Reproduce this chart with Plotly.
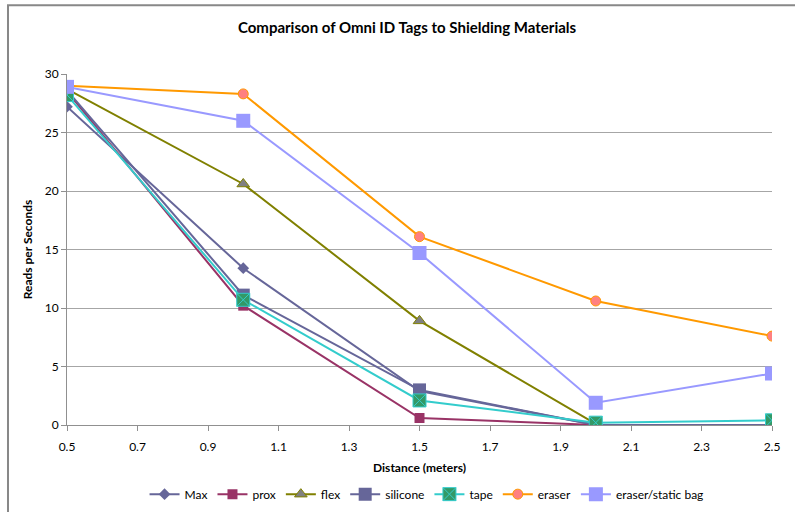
import plotly.graph_objects as go

distance = [0.5, 1.0, 1.5, 2.0, 2.5]
max_vals = [27.2, 13.4, 2.9, 0.0, 0.0]
prox_vals = [28.5, 10.2, 0.6, 0.0, 0.0]
flex_vals = [28.7, 20.6, 8.9, 0.1, None]
silicone_vals = [28.6, 11.1, 3.0, 0.0, 0.0]
tape_vals = [28.2, 10.7, 2.1, 0.2, 0.4]
eraser_vals = [29.0, 28.3, 16.1, 10.6, 7.6]
static_bag_vals = [28.9, 26.0, 14.7, 1.9, 4.4]

x_ticks = [0.5, 0.7, 0.9, 1.1, 1.3, 1.5, 1.7, 1.9, 2.1, 2.3, 2.5]
y_ticks = [0, 5, 10, 15, 20, 25, 30]

FONT = "Lato, 'Open Sans', sans-serif"

series = [
    ("Max", max_vals, "#666699", dict(symbol="diamond", size=9, color="#666699")),
    ("prox", prox_vals, "#993366", dict(symbol="square", size=10, color="#993366")),
    ("flex", flex_vals, "#808000", dict(symbol="triangle-up", size=11, color="#808080",
                                         line=dict(color="#808000", width=1))),
    ("silicone", silicone_vals, "#666699", dict(symbol="square", size=13, color="#666699")),
    ("tape", tape_vals, "#33CCCC", dict(symbol="square-x", size=13, color="#339966",
                                         line=dict(color="#33CCCC", width=1))),
    ("eraser", eraser_vals, "#FF9900", dict(symbol="circle", size=10, color="#FF8080",
                                             line=dict(color="#FF9900", width=1))),
    ("eraser/static bag", static_bag_vals, "#9999FF", dict(symbol="square", size=14, color="#9999FF")),
]

fig = go.Figure()
for name, vals, lc, mk in series:
    fig.add_trace(go.Scatter(
        x=distance, y=vals, name=name, mode="lines+markers",
        line=dict(color=lc, width=2), marker=mk, connectgaps=False,
    ))

fig.update_layout(
    width=795, height=512,
    margin=dict(l=67, r=23, t=74, b=87, autoexpand=False),
    paper_bgcolor="white", plot_bgcolor="white",
    font=dict(family=FONT, size=12, color="black"),
    title=dict(text="<b>Comparison of Omni ID Tags to Shielding Materials</b>",
               x=0.512, xanchor="center", y=0.945, yanchor="middle",
               font=dict(size=15, family=FONT)),
    showlegend=True,
    legend=dict(orientation="h", x=0.51, xanchor="center", y=-0.197, yanchor="middle",
                font=dict(size=12, family=FONT)),
    xaxis=dict(
        range=[0.5, 2.5], tickvals=x_ticks, ticktext=[f"{v:.1f}" for v in x_ticks],
        showgrid=False, showline=True, linecolor="#909090", linewidth=1,
        ticks="outside", ticklen=5, tickcolor="#909090", ticklabelstandoff=6,
        title=dict(text="<b>Distance (meters)</b>", font=dict(size=12), standoff=10),
        zeroline=False, automargin=False,
    ),
    yaxis=dict(
        range=[0, 30], tickvals=y_ticks,
        showgrid=True, gridcolor="#A6A6A6", gridwidth=1,
        showline=True, linecolor="#909090", linewidth=1,
        ticks="outside", ticklen=5, tickcolor="#909090",
        title=dict(text="<b>Reads per Seconds</b>", font=dict(size=12), standoff=9),
        zeroline=False, automargin=False,
    ),
)

# outer chart border (only left and top edges fall inside the picture)
fig.add_shape(type="rect", xref="paper", yref="paper",
              x0=-0.0837, x1=1.1, y0=-0.3, y1=1.196, layer="below",
              line=dict(color="#888888", width=2), fillcolor="rgba(0,0,0,0)")

fig.write_html("out.html", config={"displayModeBar": False},
               post_script="document.body.style.margin='0';")
